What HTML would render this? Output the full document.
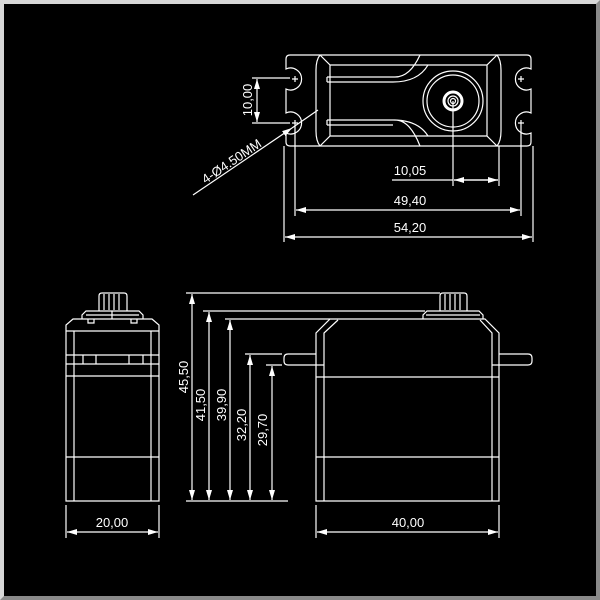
<!DOCTYPE html>
<html><head><style>
html,body{margin:0;padding:0;background:#000;}
#f{position:relative;width:600px;height:600px;box-sizing:border-box;border:4px solid;border-color:#d8d8d8 #8a8a8a #8a8a8a #d8d8d8;background:#000;}
svg{position:absolute;left:-4px;top:-4px;}
text{font-family:"Liberation Sans",sans-serif;font-size:13px;fill:#fff;}
</style></head><body><div id="f">
<svg width="600" height="600" viewBox="0 0 600 600" fill="none" stroke="#fff" stroke-width="1.2">
<defs><marker id="a" viewBox="0 0 10 6" refX="10" refY="3" markerWidth="10" markerHeight="6" orient="auto-start-reverse" markerUnits="userSpaceOnUse"><path d="M0,0L10,3L0,6z" fill="#fff" stroke="none"/></marker></defs>
<!-- TOP VIEW -->
<path d="M290,55 H527 Q531,55 531,59 V69 A11,11 0 1 0 531,89 V113 A11,11 0 1 0 531,133 V142 Q531,146 527,146 H290 Q286,146 286,142 V133 A11,11 0 1 0 286,113 V89 A11,11 0 1 0 286,69 V59 Q286,55 290,55Z"/>
<path d="M320,55 Q316,60 316,70 V131 Q316,141 320,146 M497,55 Q501,60 501,70 V131 Q501,141 497,146"/>
<path d="M320,55 L330,65 V136 L320,146 M497,55 L487,65 V136 L497,146 M330,65 H487 M330,136 H487"/>
<path d="M327,77 H395 Q410,77 420,55 M327,82 H393 Q418,82 428,65 M327,77 V82"/>
<path d="M327,120 H395 Q410,120 420,146 M327,125 H393 M327,120 V125 M393,120 Q418,120 428,136"/>
<path d="M295,76 V82 M292,79 H298 M295,120 V126 M292,123 H298 M521,76 V82 M518,79 H524 M521,120 V126 M518,123 H524"/>
<circle cx="453" cy="101" r="30"/><circle cx="453" cy="101" r="26"/>
<circle cx="453" cy="101" r="9" stroke-width="3"/><circle cx="453" cy="101" r="5"/><circle cx="453" cy="101" r="2.5"/>
<!-- top dims -->
<path d="M252,78 H290 M252,123 H290"/>
<path d="M257,79 V122" marker-start="url(#a)" marker-end="url(#a)"/>
<text transform="translate(252,100) rotate(-90)" text-anchor="middle" stroke="none">10,00</text>
<path d="M193,195 L292,128" marker-end="url(#a)"/><path d="M292,128 L318,110"/>
<text transform="translate(234,165) rotate(-34)" text-anchor="middle" stroke="none">4-Ø4.50MM</text>
<path d="M453,101 V186 M499,146 V186 M295,126 V216 M521,126 V216 M284,146 V242 M533,146 V242"/>
<path d="M392,180 H453 M454,180 H498" marker-end="url(#a)"/>
<path d="M454,180 H498" marker-start="url(#a)"/>
<text x="410" y="175" text-anchor="middle" stroke="none">10,05</text>
<path d="M296,210 H520" marker-start="url(#a)" marker-end="url(#a)"/>
<text x="410" y="205" text-anchor="middle" stroke="none">49,40</text>
<path d="M285,237 H532" marker-start="url(#a)" marker-end="url(#a)"/>
<text x="410" y="232" text-anchor="middle" stroke="none">54,20</text>
<!-- FRONT VIEW -->
<path d="M316,501 V333 L330,319 H485 L499,333 V501 Z"/>
<path d="M324,501 V333 L338,320 M492,501 V333 L480,320"/>
<path d="M316,354 H288 Q284,354 284,358 V361 Q284,365 288,365 H316 M499,354 H528 Q532,354 532,358 V361 Q532,365 528,365 H499"/>
<path d="M316,377 H499 M316,457 H499 M316,365 H324 M492,365 H499"/>
<path d="M423,319 V315 L427,311 H479 L483,315 V319 M426,315 H480"/>
<path d="M440,311 V296 Q440,293 443,293 H464 Q467,293 467,296 V311 M445,294 V310 M450,294 V310 M455,294 V310 M460,294 V310"/>
<!-- front dims -->
<path d="M186,293 H440 M203,311 H425 M225,319 H330 M245,354 H282 M266,365 H282 M186,501 H288"/>
<path d="M192,294 V500" marker-start="url(#a)" marker-end="url(#a)"/>
<path d="M209,312 V500" marker-start="url(#a)" marker-end="url(#a)"/>
<path d="M230,320 V500" marker-start="url(#a)" marker-end="url(#a)"/>
<path d="M250,355 V500" marker-start="url(#a)" marker-end="url(#a)"/>
<path d="M272,366 V500" marker-start="url(#a)" marker-end="url(#a)"/>
<text transform="translate(188,377) rotate(-90)" text-anchor="middle" stroke="none">45,50</text>
<text transform="translate(205,405) rotate(-90)" text-anchor="middle" stroke="none">41,50</text>
<text transform="translate(226,405) rotate(-90)" text-anchor="middle" stroke="none">39,90</text>
<text transform="translate(246,425) rotate(-90)" text-anchor="middle" stroke="none">32,20</text>
<text transform="translate(267,430) rotate(-90)" text-anchor="middle" stroke="none">29,70</text>
<path d="M316,505 V538 M499,505 V538"/>
<path d="M317,532 H498" marker-start="url(#a)" marker-end="url(#a)"/>
<text x="408" y="527" text-anchor="middle" stroke="none">40,00</text>
<!-- SIDE VIEW -->
<path d="M66,501 V325 L73,319 H152 L159,325 V501 Z"/>
<path d="M66,331 H159 M74,331 V501 M151,331 V501"/>
<path d="M66,355 H159 M66,364 H159 M66,376 H159 M66,457 H159"/>
<path d="M83,355 V364 M96,355 V364 M143,355 V364 M129,355 V364"/>
<path d="M82,319 V315 L86,311 H139 L143,315 V319 M88,319 V323 H94 V319 M131,319 V323 H137 V319 M112,311 V319 M86,315 H139"/>
<path d="M99,311 V296 Q99,293 102,293 H124 Q127,293 127,296 V311 M104,294 V310 M109,294 V310 M114,294 V310 M119,294 V310"/>
<path d="M66,505 V538 M159,505 V538"/>
<path d="M67,532 H158" marker-start="url(#a)" marker-end="url(#a)"/>
<text x="112" y="527" text-anchor="middle" stroke="none">20,00</text>
</svg>
</div></body></html>
